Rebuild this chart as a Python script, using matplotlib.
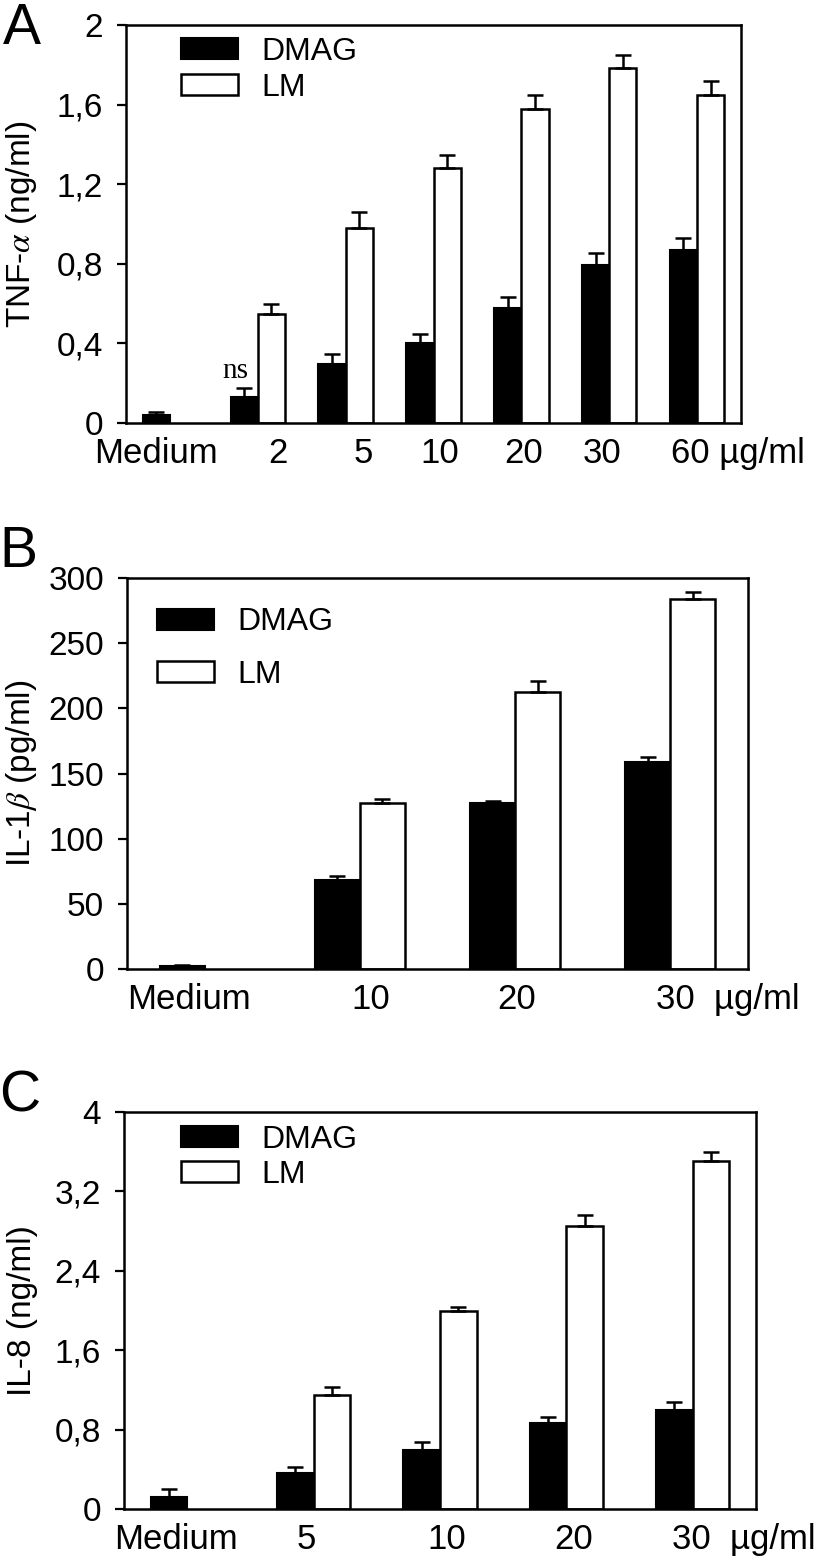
import matplotlib.pyplot as plt
import numpy as np

plt.rcParams['font.family'] = ['Liberation Sans', 'DejaVu Sans']
plt.rcParams['mathtext.fontset'] = 'stix'

# panel A: TNF-alpha (ng/ml)
cats_a = ['Medium', '2', '5', '10', '20', '30', '60 µg/ml']
dmag_a = [0.04, 0.13, 0.295, 0.40, 0.58, 0.795, 0.87]
dmag_a_err = [0.017, 0.045, 0.05, 0.047, 0.055, 0.06, 0.06]
lm_a = [0.55, 0.98, 1.28, 1.58, 1.785, 1.65]
lm_a_err = [0.05, 0.08, 0.065, 0.07, 0.065, 0.07]
yticks_a = [0, 0.4, 0.8, 1.2, 1.6, 2]
ylabels_a = ['0', '0,4', '0,8', '1,2', '1,6', '2']

# panel B: IL-1beta (pg/ml)
cats_b = ['Medium', '10', '20', '30  µg/ml']
dmag_b = [2.3, 68, 127.6, 159]
dmag_b_err = [0.8, 3.8, 1.5, 3.5]
lm_b = [127.6, 212.8, 283.7]
lm_b_err = [2.9, 8, 5.9]
yticks_b = [0, 50, 100, 150, 200, 250, 300]
ylabels_b = ['0', '50', '100', '150', '200', '250', '300']

# panel C: IL-8 (ng/ml)
cats_c = ['Medium', '5', '10', '20', '30  µg/ml']
dmag_c = [0.124, 0.36, 0.595, 0.865, 1.0]
dmag_c_err = [0.076, 0.06, 0.075, 0.065, 0.075]
lm_c = [1.15, 1.99, 2.855, 3.51]
lm_c_err = [0.08, 0.05, 0.105, 0.09]
yticks_c = [0, 0.8, 1.6, 2.4, 3.2, 4]
ylabels_c = ['0', '0,8', '1,6', '2,4', '3,2', '4']

fig = plt.figure(figsize=(8.16, 15.6), dpi=100)


def panel(rect, cats, label_shift, dmag, dmag_err, lm, lm_err, width,
          yticks, ylabels, ylabel, ylab_x, leg_xy, leg_space):
    ax = fig.add_axes(rect)
    n = len(cats)
    x = np.arange(n)
    ax.bar(x - width / 2, dmag, width, color='black', edgecolor='black',
           linewidth=1.5, label='DMAG')
    ax.errorbar(x - width / 2, dmag, yerr=[np.zeros(n), dmag_err], fmt='none',
                ecolor='black', elinewidth=1.8, capsize=5.5, capthick=1.8)
    ax.bar(x[1:] + width / 2, lm, width, color='white', edgecolor='black',
           linewidth=1.8, label='LM')
    ax.errorbar(x[1:] + width / 2, lm, yerr=[np.zeros(n - 1), lm_err], fmt='none',
                ecolor='black', elinewidth=1.8, capsize=5.5, capthick=1.8)
    ax.set_xlim(-0.5, n - 0.5)
    ax.set_ylim(yticks[0], yticks[-1])
    ax.set_yticks(yticks)
    ax.set_yticklabels(ylabels)
    ax.set_xticks(x + np.array(label_shift))
    ax.set_xticklabels(cats)
    ax.tick_params(axis='y', direction='out', length=6.5, width=1.6,
                   labelsize=24, pad=10)
    ax.tick_params(axis='x', length=0, labelsize=25, pad=10)
    for s in ax.spines.values():
        s.set_linewidth(1.8)
    ax.set_ylabel(ylabel, fontsize=24)
    ax.yaxis.set_label_coords(ylab_x, 0.5)
    ax.legend(loc='upper left', bbox_to_anchor=leg_xy, frameon=False,
              fontsize=23, handlelength=1.79, handleheight=0.63,
              handletextpad=0.72, labelspacing=leg_space, borderpad=0,
              borderaxespad=0)
    return ax


ax_a = panel([0.1544, 0.7288, 0.7537, 0.2551], cats_a,
             [-0.16, 0.23, 0.2, 0.07, 0.03, -0.08, 0.47],
             dmag_a, dmag_a_err, lm_a, lm_a_err, 0.31,
             yticks_a, ylabels_a, 'TNF-$\\alpha$ (ng/ml)', -0.142,
             (0.089, 0.97), 0.18)
ax_a.text(0.75, 0.26, 'ns', ha='center', va='center', fontsize=21,
          family='Liberation Serif')

panel([0.1556, 0.3788, 0.761, 0.2506], cats_b,
      [-0.1, 0.07, 0.01, 0.37],
      dmag_b, dmag_b_err, lm_b, lm_b_err, 0.29,
      yticks_b, ylabels_b, 'IL-1$\\beta$ (pg/ml)', -0.142,
      (0.048, 0.925), 0.7)

panel([0.152, 0.0327, 0.7745, 0.2545], cats_c,
      [-0.09, -0.06, 0.05, 0.06, 0.4],
      dmag_c, dmag_c_err, lm_c, lm_c_err, 0.29,
      yticks_c, ylabels_c, 'IL-8 (ng/ml)', -0.136,
      (0.09, 0.968), 0.17)

fig.text(0.004, 1 - 2 / 1560, 'A', fontsize=41, va='top', ha='left')
fig.text(-0.001, 1 - 525 / 1560, 'B', fontsize=41, va='top', ha='left')
fig.text(-0.001, 1 - 1070 / 1560, 'C', fontsize=41, va='top', ha='left')

plt.savefig('out.png', dpi=100)
